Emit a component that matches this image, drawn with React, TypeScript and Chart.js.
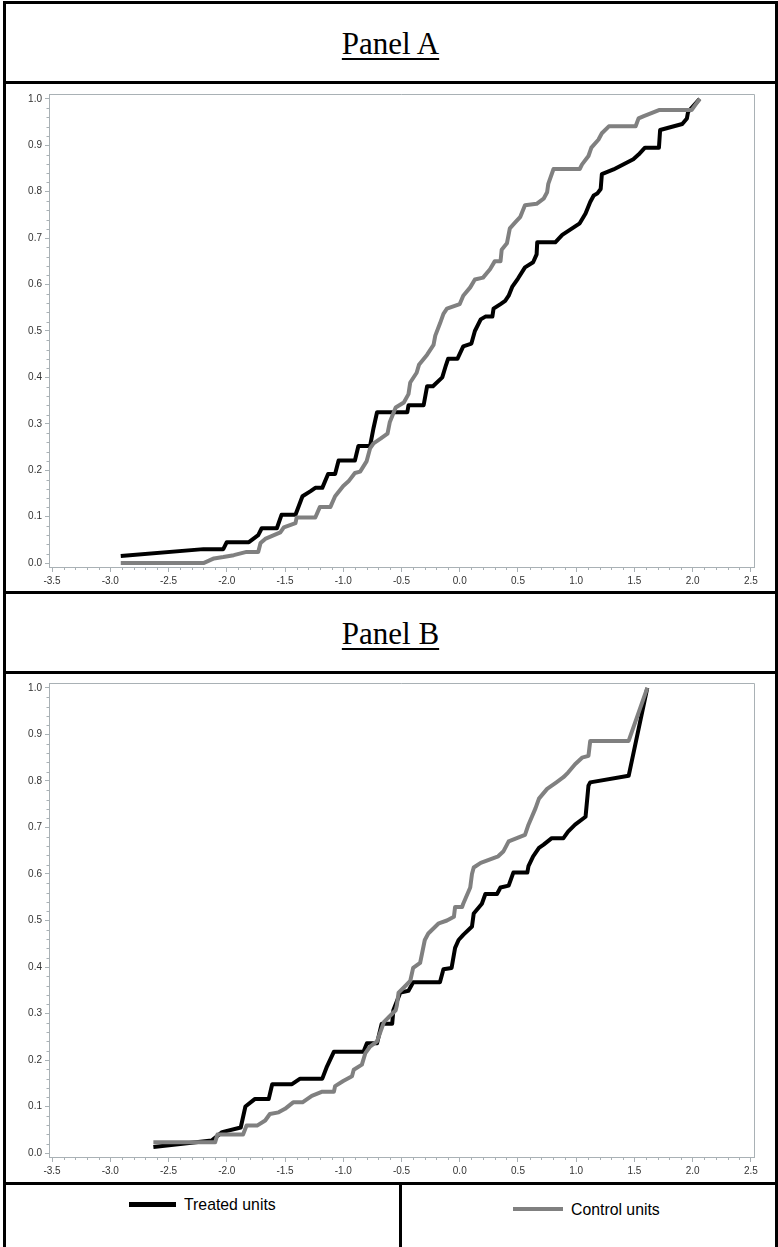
import React, { useEffect, useRef } from "react";
import { Chart, registerables } from "chart.js";

Chart.register(...registerables);

// ---------- data ----------
const SERIES_NAMES = ["Treated units", "Control units"];
const PANEL_TITLES = ["Panel A", "Panel B"];
const X_TICKS = [-3.5, -3.0, -2.5, -2.0, -1.5, -1.0, -0.5, 0.0, 0.5, 1.0, 1.5, 2.0, 2.5];
const Y_TICKS = [0.0, 0.1, 0.2, 0.3, 0.4, 0.5, 0.6, 0.7, 0.8, 0.9, 1.0];

const A_TREATED_X = [-2.91, -2.2, -2.03, -2.0, -1.81, -1.73, -1.7, -1.57, -1.53, -1.41, -1.35, -1.28, -1.24, -1.18, -1.13, -1.07, -1.04, -0.9, -0.87, -0.77, -0.74, -0.71, -0.45, -0.44, -0.31, -0.28, -0.23, -0.15, -0.12, -0.1, -0.02, 0.03, 0.1, 0.13, 0.18, 0.22, 0.28, 0.29, 0.35, 0.39, 0.42, 0.45, 0.5, 0.56, 0.63, 0.66, 0.665, 0.82, 0.88, 1.03, 1.08, 1.12, 1.15, 1.18, 1.21, 1.22, 1.32, 1.49, 1.535, 1.59, 1.71, 1.72, 1.91, 1.95, 1.96, 2.06];
const A_TREATED_Y = [0.015, 0.03, 0.03, 0.045, 0.045, 0.06, 0.075, 0.075, 0.104, 0.104, 0.144, 0.155, 0.162, 0.162, 0.192, 0.192, 0.221, 0.221, 0.252, 0.252, 0.291, 0.325, 0.325, 0.34, 0.34, 0.381, 0.381, 0.4, 0.425, 0.44, 0.44, 0.467, 0.473, 0.5, 0.525, 0.531, 0.531, 0.548, 0.558, 0.565, 0.576, 0.595, 0.613, 0.637, 0.648, 0.665, 0.691, 0.691, 0.707, 0.732, 0.753, 0.778, 0.792, 0.796, 0.806, 0.838, 0.848, 0.87, 0.88, 0.895, 0.895, 0.933, 0.946, 0.958, 0.972, 1.0];

const A_CONTROL_X = [-2.91, -2.2, -2.11, -2.03, -1.94, -1.83, -1.73, -1.71, -1.67, -1.54, -1.51, -1.41, -1.4, -1.24, -1.2, -1.11, -1.07, -1.0, -0.955, -0.9, -0.855, -0.8, -0.77, -0.74, -0.68, -0.62, -0.6, -0.55, -0.48, -0.44, -0.425, -0.37, -0.35, -0.28, -0.225, -0.21, -0.17, -0.14, -0.11, 0.0, 0.03, 0.09, 0.13, 0.2, 0.26, 0.3, 0.35, 0.36, 0.405, 0.43, 0.48, 0.52, 0.56, 0.66, 0.72, 0.75, 0.76, 0.805, 1.03, 1.05, 1.105, 1.13, 1.19, 1.22, 1.28, 1.51, 1.535, 1.58, 1.71, 1.99, 2.06];
const A_CONTROL_Y = [0.0, 0.0, 0.01, 0.013, 0.017, 0.024, 0.024, 0.043, 0.052, 0.066, 0.077, 0.086, 0.098, 0.098, 0.121, 0.121, 0.144, 0.166, 0.176, 0.194, 0.197, 0.219, 0.247, 0.258, 0.268, 0.279, 0.304, 0.335, 0.346, 0.364, 0.389, 0.41, 0.427, 0.449, 0.47, 0.49, 0.516, 0.537, 0.548, 0.558, 0.576, 0.594, 0.611, 0.615, 0.633, 0.65, 0.65, 0.675, 0.689, 0.721, 0.735, 0.746, 0.771, 0.774, 0.785, 0.799, 0.817, 0.849, 0.849, 0.859, 0.877, 0.895, 0.912, 0.926, 0.941, 0.941, 0.958, 0.963, 0.976, 0.976, 1.0];

const B_TREATED_X = [-2.63, -2.13, -2.04, -1.88, -1.84, -1.76, -1.64, -1.61, -1.44, -1.37, -1.18, -1.14, -1.08, -0.826, -0.797, -0.71, -0.67, -0.58, -0.57, -0.51, -0.44, -0.4, -0.17, -0.14, -0.07, -0.04, -0.01, 0.03, 0.105, 0.12, 0.19, 0.22, 0.32, 0.35, 0.42, 0.46, 0.58, 0.59, 0.63, 0.68, 0.72, 0.79, 0.89, 0.93, 0.99, 1.08, 1.105, 1.12, 1.45, 1.61];
const B_TREATED_Y = [0.013, 0.027, 0.045, 0.055, 0.1, 0.116, 0.116, 0.148, 0.148, 0.16, 0.16, 0.186, 0.218, 0.218, 0.236, 0.236, 0.278, 0.278, 0.307, 0.345, 0.349, 0.367, 0.367, 0.395, 0.398, 0.441, 0.458, 0.469, 0.487, 0.515, 0.536, 0.557, 0.557, 0.571, 0.575, 0.603, 0.603, 0.617, 0.638, 0.656, 0.663, 0.677, 0.677, 0.691, 0.706, 0.723, 0.79, 0.797, 0.811, 1.0];

const B_CONTROL_X = [-2.63, -2.1, -2.08, -1.86, -1.83, -1.74, -1.67, -1.63, -1.555, -1.5, -1.43, -1.35, -1.27, -1.18, -1.08, -1.07, -1.0, -0.925, -0.91, -0.84, -0.81, -0.77, -0.71, -0.65, -0.61, -0.55, -0.54, -0.525, -0.48, -0.425, -0.4, -0.34, -0.3, -0.27, -0.18, -0.11, -0.05, -0.04, 0.02, 0.03, 0.09, 0.105, 0.12, 0.18, 0.33, 0.376, 0.42, 0.56, 0.59, 0.65, 0.68, 0.75, 0.83, 0.89, 0.93, 0.99, 1.05, 1.105, 1.12, 1.45, 1.61];
const B_CONTROL_Y = [0.023, 0.023, 0.04, 0.04, 0.059, 0.059, 0.07, 0.084, 0.0875, 0.095, 0.109, 0.109, 0.123, 0.132, 0.132, 0.144, 0.155, 0.165, 0.179, 0.19, 0.215, 0.229, 0.24, 0.282, 0.292, 0.307, 0.317, 0.345, 0.356, 0.37, 0.398, 0.409, 0.458, 0.472, 0.494, 0.5, 0.508, 0.529, 0.529, 0.536, 0.571, 0.6, 0.614, 0.624, 0.638, 0.649, 0.67, 0.684, 0.706, 0.741, 0.762, 0.783, 0.797, 0.808, 0.818, 0.836, 0.85, 0.854, 0.886, 0.886, 1.0];

// ---------- style ----------
const TREATED_COLOR = "#000000";
const CONTROL_COLOR = "#808080";
const AXIS_COLOR = "#a9b1b5";
const LABEL_COLOR = "#333333";
const SANS = "'Liberation Sans', Arial, Helvetica, sans-serif";
const SERIF = "'Liberation Serif', 'Times New Roman', Times, serif";
const X_MIN = -3.526;
const X_MAX = 2.526;
const Y_MIN = -0.0085;
const Y_MAX = 1.0106;

const toPoints = (xs: number[], ys: number[]) => xs.map((x, i) => ({ x, y: ys[i] }));

const frameAndMinorTicks = {
  id: "frameAndMinorTicks",
  afterDraw(chart: any) {
    const ctx = chart.ctx;
    const xs = chart.scales.x;
    const ys = chart.scales.y;
    const a = chart.chartArea;
    ctx.save();
    ctx.strokeStyle = AXIS_COLOR;
    ctx.lineWidth = 1;
    ctx.beginPath();
    for (let i = -35; i <= 25; i++) {
      if (i % 5 === 0) continue;
      const px = Math.round(xs.getPixelForValue(i / 10)) + 0.5;
      ctx.moveTo(px, a.bottom);
      ctx.lineTo(px, a.bottom + 3);
    }
    for (let j = 0; j <= 50; j++) {
      if (j % 5 === 0) continue;
      const py = Math.round(ys.getPixelForValue(j / 50)) + 0.5;
      ctx.moveTo(a.left, py);
      ctx.lineTo(a.left - 2.5, py);
    }
    ctx.moveTo(a.left, Math.round(a.top) + 0.5);
    ctx.lineTo(Math.round(a.right) + 0.5, Math.round(a.top) + 0.5);
    ctx.lineTo(Math.round(a.right) + 0.5, a.bottom);
    ctx.stroke();
    ctx.restore();
  },
};

function CdfChart(props: {
  treatedX: number[];
  treatedY: number[];
  controlX: number[];
  controlY: number[];
  width: number;
  height: number;
  xAxisHeight: number;
}) {
  const ref = useRef<HTMLCanvasElement | null>(null);
  useEffect(() => {
    if (!ref.current) return;
    const chart = new Chart(ref.current, {
      type: "line",
      data: {
        datasets: [
          {
            label: SERIES_NAMES[1],
            data: toPoints(props.controlX, props.controlY),
            borderColor: CONTROL_COLOR,
            backgroundColor: CONTROL_COLOR,
            borderWidth: 4,
            pointRadius: 0,
            tension: 0,
            fill: false,
            borderJoinStyle: "round",
          },
          {
            label: SERIES_NAMES[0],
            data: toPoints(props.treatedX, props.treatedY),
            borderColor: TREATED_COLOR,
            backgroundColor: TREATED_COLOR,
            borderWidth: 4,
            pointRadius: 0,
            tension: 0,
            fill: false,
            borderJoinStyle: "round",
          },
        ],
      },
      options: {
        animation: false,
        responsive: false,
        devicePixelRatio: 1,
        layout: { padding: { top: 2, right: 21, left: 0, bottom: 0 } },
        plugins: { legend: { display: false }, tooltip: { enabled: false } },
        scales: {
          x: {
            type: "linear",
            min: X_MIN,
            max: X_MAX,
            afterBuildTicks: (s: any) => {
              s.ticks = X_TICKS.map((v) => ({ value: v }));
            },
            afterFit: (s: any) => {
              s.height = props.xAxisHeight;
            },
            grid: {
              display: true,
              drawOnChartArea: false,
              drawTicks: true,
              tickLength: 5,
              color: AXIS_COLOR,
            },
            border: { display: true, color: AXIS_COLOR },
            ticks: {
              autoSkip: false,
              maxRotation: 0,
              padding: 3,
              color: LABEL_COLOR,
              font: { family: SANS, size: 10 },
              callback: (v: any) => Number(v).toFixed(1),
            },
          },
          y: {
            type: "linear",
            min: Y_MIN,
            max: Y_MAX,
            afterBuildTicks: (s: any) => {
              s.ticks = Y_TICKS.map((v) => ({ value: v }));
            },
            afterFit: (s: any) => {
              s.width = 43;
            },
            grid: {
              display: true,
              drawOnChartArea: false,
              drawTicks: true,
              tickLength: 4,
              color: AXIS_COLOR,
            },
            border: { display: true, color: AXIS_COLOR },
            ticks: {
              autoSkip: false,
              padding: 3,
              color: LABEL_COLOR,
              font: { family: SANS, size: 10 },
              callback: (v: any) => Number(v).toFixed(1),
            },
          },
        },
      },
      plugins: [frameAndMinorTicks],
    } as any);
    return () => chart.destroy();
  }, []);
  return (
    <canvas
      ref={ref}
      width={props.width}
      height={props.height}
      style={{ width: props.width, height: props.height, display: "block" }}
    />
  );
}

const bar = (left: number, top: number, width: number, height: number, color = "#000") => (
  <div style={{ position: "absolute", left, top, width, height, background: color }} />
);

export default function App() {
  const titleStyle = (top: number): React.CSSProperties => ({
    position: "absolute",
    left: 3,
    width: 775,
    top,
    textAlign: "center",
    fontFamily: SERIF,
    fontSize: 31,
    lineHeight: "31px",
    color: "#000",
    textDecoration: "underline",
    textDecorationThickness: "2px",
    textUnderlineOffset: "4px",
  });
  const legendText = (left: number, top: number): React.CSSProperties => ({
    position: "absolute",
    left,
    top,
    fontFamily: SANS,
    fontSize: 17,
    lineHeight: "20px",
    color: "#000",
    whiteSpace: "nowrap",
    transform: "scaleX(0.93)",
    transformOrigin: "left center",
  });
  return (
    <div
      style={{
        position: "absolute",
        left: 0,
        top: 0,
        width: 778,
        height: 1247,
        overflow: "hidden",
        background: "#fff",
      }}
    >
      {/* table borders */}
      {bar(3, 1, 775, 3)}
      {bar(3, 1, 3, 1246)}
      {bar(775, 1, 3, 1246)}
      {bar(3, 81, 775, 3)}
      {bar(3, 591, 775, 3)}
      {bar(3, 671, 775, 3)}
      {bar(3, 1182, 775, 3)}
      {bar(399, 1182, 3, 65)}

      <div style={titleStyle(28)}>{PANEL_TITLES[0]}</div>
      <div style={titleStyle(618)}>{PANEL_TITLES[1]}</div>

      <div style={{ position: "absolute", left: 6, top: 85 }}>
        <CdfChart
          treatedX={A_TREATED_X}
          treatedY={A_TREATED_Y}
          controlX={A_CONTROL_X}
          controlY={A_CONTROL_Y}
          width={769}
          height={505}
          xAxisHeight={23}
        />
      </div>
      <div style={{ position: "absolute", left: 6, top: 674 }}>
        <CdfChart
          treatedX={B_TREATED_X}
          treatedY={B_TREATED_Y}
          controlX={B_CONTROL_X}
          controlY={B_CONTROL_Y}
          width={769}
          height={507}
          xAxisHeight={24}
        />
      </div>

      {/* legend */}
      {bar(129, 1202, 47, 5, TREATED_COLOR)}
      <div style={legendText(184, 1195)}>{SERIES_NAMES[0]}</div>
      {bar(513, 1207, 50, 4, CONTROL_COLOR)}
      <div style={legendText(571, 1200)}>{SERIES_NAMES[1]}</div>
    </div>
  );
}
